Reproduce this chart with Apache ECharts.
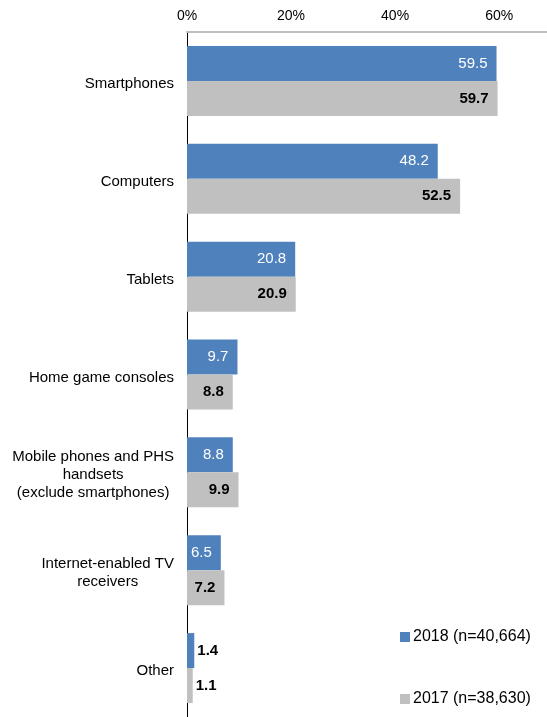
<!DOCTYPE html>
<html>
<head>
<meta charset="utf-8">
<script src="https://cdn.jsdelivr.net/npm/echarts@6/dist/echarts.min.js"></script>
<style>
  html, body { margin: 0; padding: 0; background: #ffffff; }
  #chart { width: 547px; height: 717px; }
</style>
</head>
<body>
<div id="chart"></div>
<script>
// Devices used to access the Internet, share of respondents (%)
const categories = [
  'Smartphones',
  'Computers',
  'Tablets',
  'Home game consoles',
  'Mobile phones and PHS\nhandsets\n(exclude smartphones)',
  'Internet-enabled TV\nreceivers',
  'Other'
];
const values2018 = [59.5, 48.2, 20.8, 9.7, 8.8, 6.5, 1.4];
const values2017 = [59.7, 52.5, 20.9, 8.8, 9.9, 7.2, 1.1];
const seriesNames = ['2018 (n=40,664)', '2017 (n=38,630)'];
const tickLabels = ['0%', '20%', '40%', '60%'];

const FONT = '"Liberation Sans", Arial, sans-serif';

// Values too small to hold their label inside the bar get it just outside
function buildData(values, insideLabel) {
  return values.map(function (v) {
    if (v < 3) {
      return {
        value: v,
        label: { position: 'right', distance: 3, color: '#000000', fontWeight: 'bold' }
      };
    }
    return { value: v, label: insideLabel };
  });
}

const chart = echarts.init(document.getElementById('chart'), null, { renderer: 'canvas' });

chart.setOption({
  animation: false,
  backgroundColor: '#ffffff',
  textStyle: { fontFamily: FONT },
  grid: { left: 187, right: 0, top: 32, bottom: -1, containLabel: false },
  legend: {
    orient: 'vertical',
    left: 400,
    top: 629,
    padding: 0,
    itemGap: 46,
    itemWidth: 10,
    itemHeight: 10,
    icon: 'rect',
    textStyle: { fontFamily: FONT, fontSize: 16, lineHeight: 16, color: '#000000', padding: [0, 0, 0, -2] },
    data: seriesNames
  },
  xAxis: {
    type: 'value',
    position: 'top',
    min: 0,
    max: 69.2,
    interval: 20,
    axisLine: { show: true, lineStyle: { color: '#bdbdbd', width: 2 } },
    axisTick: { show: false },
    splitLine: { show: false },
    axisLabel: {
      margin: 9,
      fontFamily: FONT,
      fontSize: 14,
      color: '#000000',
      showMaxLabel: false,
      formatter: function (v) {
        const i = Math.round(v / 20);
        return (v % 20 === 0 && tickLabels[i]) ? tickLabels[i] : '';
      }
    }
  },
  yAxis: {
    type: 'category',
    inverse: true,
    data: categories,
    axisLine: { show: true, onZero: false, lineStyle: { color: '#000000', width: 1 } },
    axisTick: { show: false },
    splitLine: { show: false },
    axisLabel: {
      margin: 13,
      fontFamily: FONT,
      fontSize: 15,
      color: '#000000',
      lineHeight: 18,
      padding: [6, 0, 0, 0],
      formatter: function (s) {
        return s.split('\n').map(function (line) { return '{c|' + line + '}'; }).join('\n');
      },
      rich: {
        c: { align: 'center', fontFamily: FONT, fontSize: 15, color: '#000000', lineHeight: 18 }
      }
    }
  },
  series: [
    {
      name: seriesNames[0],
      type: 'bar',
      barWidth: 35,
      barGap: '0%',
      barCategoryGap: '28.6%',
      itemStyle: { color: '#4f81bd' },
      label: {
        show: true,
        position: 'insideRight',
        distance: 9,
        fontFamily: FONT,
        fontSize: 15,
        color: '#ffffff',
        formatter: function (p) { return p.value.toFixed(1); }
      },
      data: buildData(values2018, { color: '#ffffff', fontWeight: 'normal' })
    },
    {
      name: seriesNames[1],
      type: 'bar',
      barWidth: 35,
      barGap: '0%',
      itemStyle: { color: '#c0c0c0' },
      label: {
        show: true,
        position: 'insideRight',
        distance: 9,
        fontFamily: FONT,
        fontSize: 15,
        fontWeight: 'bold',
        color: '#000000',
        formatter: function (p) { return p.value.toFixed(1); }
      },
      data: buildData(values2017, { color: '#000000', fontWeight: 'bold' })
    }
  ]
});
</script>
</body>
</html>
